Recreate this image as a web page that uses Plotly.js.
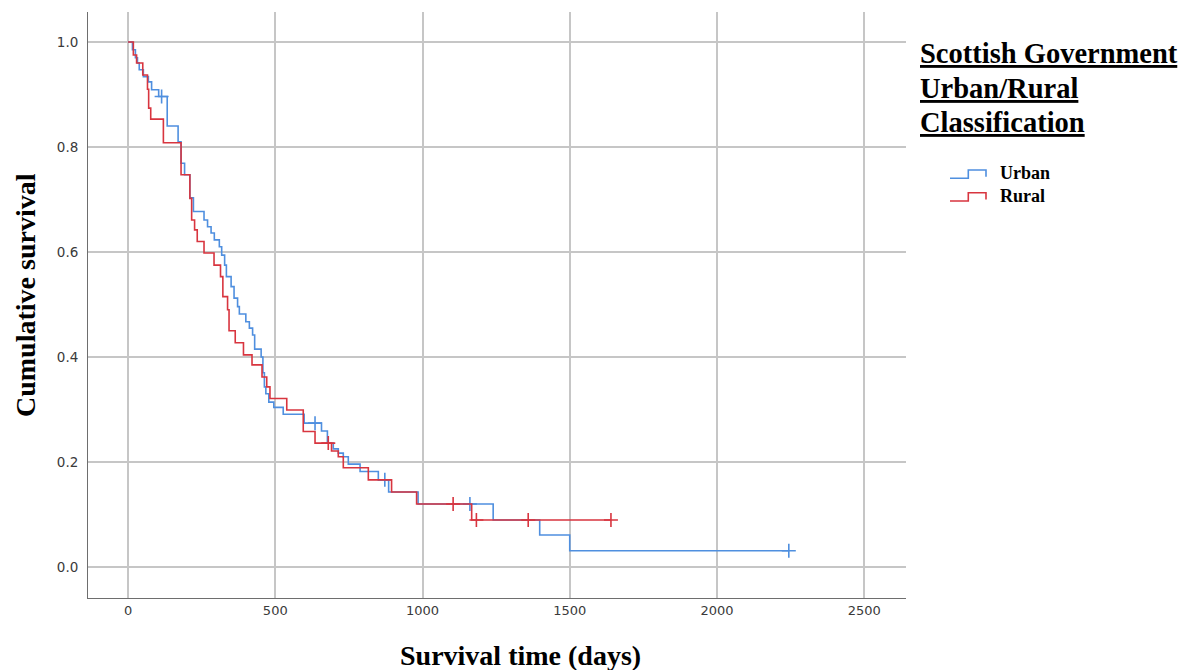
<!DOCTYPE html>
<html>
<head>
<meta charset="utf-8">
<script src="https://cdn.plot.ly/plotly-3.0.1.min.js"></script>
<style>
  html, body { margin: 0; padding: 0; background: #fff; }
  #chart { width: 1189px; height: 670px; }
</style>
</head>
<body>
<div id="chart"></div>
<script>
// ---- Data ----
const urbanTime = [0, 15, 25, 32, 38, 52, 69, 80, 104, 133, 170, 180, 192, 210, 222, 258, 270, 282, 293, 310, 318, 328, 334, 350, 360, 372, 378, 400, 412, 423, 430, 452, 458, 463, 468, 478, 495, 527, 598, 657, 677, 697, 714, 731, 748, 788, 850, 885, 985, 1240, 1398, 1500, 2244];
const urbanSurv = [1.0, 0.985, 0.97, 0.96, 0.947, 0.934, 0.924, 0.909, 0.896, 0.84, 0.81, 0.769, 0.747, 0.703, 0.677, 0.661, 0.648, 0.636, 0.623, 0.61, 0.594, 0.575, 0.553, 0.534, 0.512, 0.496, 0.482, 0.467, 0.455, 0.442, 0.415, 0.40, 0.37, 0.343, 0.33, 0.314, 0.304, 0.291, 0.274, 0.259, 0.236, 0.225, 0.217, 0.21, 0.196, 0.182, 0.166, 0.143, 0.12, 0.0895, 0.061, 0.031, 0.031];
const urbanCensored = [114, 635, 872, 1161, 2244];

const ruralTime = [0, 18, 29, 50, 66, 70, 77, 120, 180, 210, 216, 226, 235, 258, 292, 314, 322, 338, 343, 364, 392, 421, 455, 471, 482, 539, 595, 635, 691, 714, 731, 816, 895, 980, 1167, 1640];
const ruralSurv = [1.0, 0.975, 0.96, 0.937, 0.91, 0.874, 0.853, 0.808, 0.747, 0.702, 0.661, 0.642, 0.62, 0.598, 0.575, 0.553, 0.515, 0.49, 0.45, 0.427, 0.404, 0.385, 0.362, 0.343, 0.321, 0.299, 0.258, 0.236, 0.221, 0.21, 0.189, 0.166, 0.143, 0.12, 0.0895, 0.0895];
const ruralCensored = [680, 1104, 1183, 1359, 1640];

const groupNames = ["Urban", "Rural"];
const legendTitleLines = ["Scottish Government", "Urban/Rural", "Classification"];
const xTitle = "Survival time (days)";
const yTitle = "Cumulative survival";
const xTicks = [0, 500, 1000, 1500, 2000, 2500];
const yTicks = [0.0, 0.2, 0.4, 0.6, 0.8, 1.0];

// ---- Styling ----
const BLUE = "#4f8fdf";
const RED = "#d8353f";
const SERIF = "Liberation Serif, Times New Roman, serif";

function survAt(times, surv, t) {
  let v = surv[0];
  for (let i = 0; i < times.length; i++) { if (times[i] <= t) v = surv[i]; }
  return v;
}

function groupTraces(name, times, surv, cens, color) {
  return [
    { type: "scatter", mode: "lines", name: name, x: times, y: surv,
      line: { shape: "hv", color: color, width: 1.6 }, hoverinfo: "x+y", showlegend: false },
    { type: "scatter", mode: "markers", name: name + " censored", x: cens,
      y: cens.map(t => survAt(times, surv, t)),
      marker: { symbol: "cross-thin-open", size: 10, color: color, line: { color: color, width: 1.6 } },
      showlegend: false, hoverinfo: "x+y" }
  ];
}

const data = [
  ...groupTraces(groupNames[0], urbanTime, urbanSurv, urbanCensored, BLUE),
  ...groupTraces(groupNames[1], ruralTime, ruralSurv, ruralCensored, RED)
];

// paper coordinate helpers for layout placement (plot area 88..906 x 12..598)
const L = 88, R = 906, T = 12, B = 598;
const px = v => (v - L) / (R - L);
const py = v => (B - v) / (B - T);

function stepPath(x0, yLow, x1, yHigh, x2, yEnd) {
  return `M ${px(x0)},${py(yLow)} L ${px(x1)},${py(yLow)} L ${px(x1)},${py(yHigh)} L ${px(x2)},${py(yHigh)} L ${px(x2)},${py(yEnd)}`;
}

const titleLineY = [53, 88, 122];
const titleFont = { family: SERIF, size: 28, weight: "bold", color: "#000" };

const layout = {
  width: 1189, height: 670,
  margin: { l: L, r: 1189 - R, t: T, b: 670 - B, pad: 0 },
  paper_bgcolor: "#ffffff", plot_bgcolor: "#ffffff",
  showlegend: false,
  xaxis: {
    range: [-136, 2642], tickvals: xTicks, ticktext: xTicks.map(String),
    showgrid: true, gridcolor: "#c6c6c6", gridwidth: 2, zeroline: false,
    showline: true, linecolor: "#6e6e6e", linewidth: 1, mirror: false,
    ticks: "", tickfont: { family: "DejaVu Sans, sans-serif", size: 13, color: "#3a3a3a" }
  },
  yaxis: {
    range: [-0.059, 1.057], tickvals: yTicks, ticktext: yTicks.map(v => v.toFixed(1)),
    showgrid: true, gridcolor: "#c6c6c6", gridwidth: 2, zeroline: false,
    showline: true, linecolor: "#6e6e6e", linewidth: 1,
    ticks: "", ticklabelstandoff: 6, tickfont: { family: "DejaVu Sans, sans-serif", size: 13.5, color: "#3a3a3a" }
  },
  annotations: [
    { xref: "paper", yref: "paper", x: px(520), y: py(655), xanchor: "center", yanchor: "middle",
      text: xTitle, showarrow: false, font: titleFont },
    { xref: "paper", yref: "paper", x: px(25), y: py(295), xanchor: "center", yanchor: "middle",
      text: yTitle, showarrow: false, textangle: -90, font: titleFont },
    ...legendTitleLines.map((t, i) => ({
      xref: "paper", yref: "paper", x: px(918), y: py(titleLineY[i]), xanchor: "left", yanchor: "middle",
      text: t, showarrow: false, align: "left",
      font: { family: SERIF, size: 28.5, weight: "bold", color: "#000", lineposition: "under" } })),
    { xref: "paper", yref: "paper", x: px(998), y: py(173), xanchor: "left", yanchor: "middle",
      text: groupNames[0], showarrow: false, font: { family: SERIF, size: 18, weight: "bold", color: "#000" } },
    { xref: "paper", yref: "paper", x: px(998), y: py(196), xanchor: "left", yanchor: "middle",
      text: groupNames[1], showarrow: false, font: { family: SERIF, size: 18, weight: "bold", color: "#000" } }
  ],
  shapes: [
    { type: "path", xref: "paper", yref: "paper", path: stepPath(950, 178.3, 968.3, 170, 986, 176.7),
      line: { color: BLUE, width: 1.6 } },
    { type: "path", xref: "paper", yref: "paper", path: stepPath(950, 201, 968.3, 192.7, 986, 199.4),
      line: { color: RED, width: 1.6 } }
  ]
};

Plotly.newPlot("chart", data, layout, { displayModeBar: false, staticPlot: true });
</script>
</body>
</html>
